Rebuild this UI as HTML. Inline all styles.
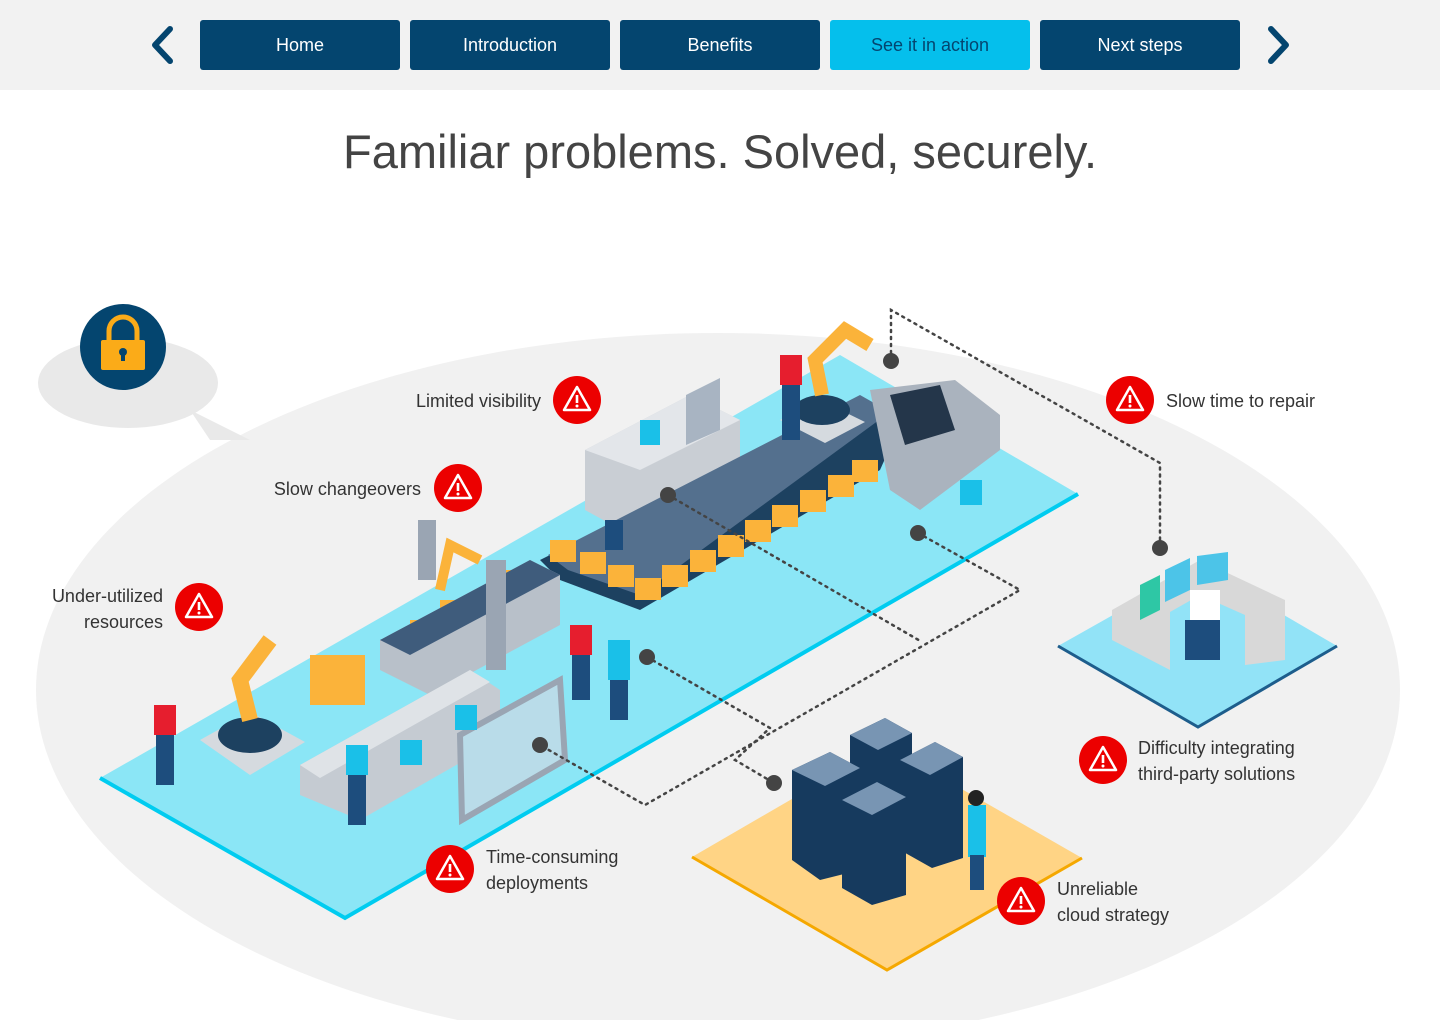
<!DOCTYPE html>
<html><head><meta charset="utf-8"><style>
html,body{margin:0;padding:0;width:1440px;height:1020px;overflow:hidden;background:#fff;font-family:"Liberation Sans",Arial,sans-serif}
.nav{position:absolute;left:0;top:0;width:1440px;height:90px;background:#f2f2f2}
.btn{position:absolute;top:20px;width:200px;height:50px;background:#04456f;color:#fff;border-radius:3px;font-size:18px;line-height:50px;text-align:center}
h1{position:absolute;top:124px;left:0;width:1440px;margin:0;text-align:center;font-weight:normal;font-size:47px;color:#444;letter-spacing:0px}
svg{position:absolute;left:0;top:0}
.lab{font-family:"Liberation Sans",Arial,sans-serif;font-size:18px;fill:#333}
</style></head><body>
<div class="nav"></div>
<div class="btn" style="left:200px">Home</div>
<div class="btn" style="left:410px">Introduction</div>
<div class="btn" style="left:620px">Benefits</div>
<div class="btn" style="left:830px;background:#05bfec;color:#04456f">See it in action</div>
<div class="btn" style="left:1040px">Next steps</div>
<h1>Familiar problems. Solved, securely.</h1>
<svg width="1440" height="1020" viewBox="0 0 1440 1020">
<defs>
<g id="warn"><circle r="24" fill="#ec0000"/><path d="M0,-13 L13,10 L-13,10 Z" fill="none" stroke="#fff" stroke-width="2.5" stroke-linejoin="round"/><rect x="-1.3" y="-5" width="2.6" height="8" fill="#fff"/><circle cy="6" r="1.5" fill="#fff"/></g>
</defs>
<path d="M170,29 L155,45 L170,61" fill="none" stroke="#04456f" stroke-width="6" stroke-linecap="round" stroke-linejoin="round"/>
<path d="M1271,29 L1286,45 L1271,61" fill="none" stroke="#04456f" stroke-width="6" stroke-linecap="round" stroke-linejoin="round"/>
<ellipse cx="718" cy="690" rx="682" ry="357" fill="#f1f1f1"/>
<ellipse cx="128" cy="383" rx="90" ry="45" fill="#e9e9e9"/>
<path d="M190,410 L250,440 L210,440 Z" fill="#e9e9e9"/>
<circle cx="123" cy="347" r="43" fill="#04456f"/>
<rect x="101" y="340" width="44" height="30" rx="2" fill="#fbab18"/>
<path d="M109,340 v-9 a14,14 0 0 1 28,0 v9" fill="none" stroke="#fbab18" stroke-width="5"/>
<circle cx="123" cy="352" r="4" fill="#04456f"/><rect x="121" y="352" width="4" height="9" fill="#04456f"/>
<polygon points="100,778 345,918 1078,494 840,355" fill="#8be6f6"/>
<polyline points="100,778 345,918 1078,494" fill="none" stroke="#00ccf0" stroke-width="4"/>
<polygon points="1058,646 1198,727 1337,646 1200,566" fill="#92e3f7"/>
<polyline points="1058,646 1198,727 1337,646" fill="none" stroke="#1d5d8c" stroke-width="3"/>
<polygon points="1112,610 1200,560 1285,600 1285,660 1245,665 1245,615 1200,595 1170,612 1170,670 1112,640" fill="#d8d8d8"/>
<polygon points="1140,585 1160,575 1160,610 1140,620" fill="#2ec7a5"/><polygon points="1165,570 1190,558 1190,590 1165,602" fill="#4cc4e8"/><polygon points="1197,556 1228,552 1228,580 1197,585" fill="#4cc4e8"/>
<rect x="1190" y="590" width="30" height="40" fill="#fff"/><rect x="1185" y="620" width="35" height="40" fill="#1d4d7d"/>
<polygon points="692,857 887,970 1082,858 885,745" fill="#ffd485"/>
<polyline points="692,857 887,970 1082,858" fill="none" stroke="#f5a800" stroke-width="3"/>
<g fill="#163a5e">
<polygon points="792,770 830,752 860,768 860,870 820,880 792,860"/>
<polygon points="850,735 885,718 912,733 912,830 880,840 850,820"/>
<polygon points="900,760 935,742 963,757 963,858 932,868 900,850"/>
<polygon points="842,800 877,782 906,797 906,895 872,905 842,888"/>
</g>
<g fill="#7895b3"><polygon points="792,770 830,752 860,768 825,786"/><polygon points="850,735 885,718 912,733 878,750"/><polygon points="900,760 935,742 963,757 930,775"/><polygon points="842,800 877,782 906,797 872,815"/></g>
<rect x="968" y="805" width="18" height="52" fill="#1ac0e8"/><rect x="970" y="855" width="14" height="35" fill="#1d4d7d"/><circle cx="976" cy="798" r="8" fill="#222"/>
<polygon points="585,450 690,395 740,420 740,490 640,540 585,510" fill="#c9ced4"/>
<polygon points="585,450 690,395 740,420 640,470" fill="#e3e6ea"/>
<polygon points="686,395 720,378 720,430 686,445" fill="#a8b4c2"/>
<polygon points="540,560 860,400 900,425 880,470 640,610 560,580" fill="#1d4160"/>
<polygon points="548,555 860,395 890,412 640,595 568,570" fill="#54708e"/>
<g fill="#fbb33a">
<rect x="550" y="540" width="26" height="22"/><rect x="580" y="552" width="26" height="22"/><rect x="608" y="565" width="26" height="22"/><rect x="635" y="578" width="26" height="22"/><rect x="662" y="565" width="26" height="22"/><rect x="690" y="550" width="26" height="22"/><rect x="718" y="535" width="26" height="22"/><rect x="745" y="520" width="26" height="22"/><rect x="772" y="505" width="26" height="22"/><rect x="800" y="490" width="26" height="22"/><rect x="828" y="475" width="26" height="22"/><rect x="852" y="460" width="26" height="22"/>
<rect x="310" y="655" width="55" height="50"/><rect x="410" y="620" width="30" height="25"/><rect x="440" y="600" width="30" height="25"/><rect x="505" y="570" width="30" height="25"/>
</g>
<polygon points="380,640 530,560 560,575 560,625 430,695 380,670" fill="#b8c0c9"/>
<polygon points="380,640 530,560 560,575 410,655" fill="#3f5c7c"/>
<rect x="486" y="560" width="20" height="110" fill="#9aa5b3"/><rect x="418" y="520" width="18" height="60" fill="#9aa5b3"/>
<polygon points="300,765 470,670 500,690 500,740 360,820 300,795" fill="#c5cbd2"/>
<polygon points="300,765 470,670 490,682 320,778" fill="#dfe3e7"/>
<polygon points="460,735 560,680 565,760 462,820" fill="#b9dce9" stroke="#9aa5b3" stroke-width="6"/>
<polygon points="870,390 955,380 1000,415 1000,450 920,510 890,490" fill="#aab3be"/>
<polygon points="890,395 940,385 955,430 905,445" fill="#24364a"/>
<polygon points="200,740 250,712 305,742 250,775" fill="#d5dadf"/><ellipse cx="250" cy="735" rx="32" ry="18" fill="#1d4160"/>
<path d="M250,720 L240,680 L270,640" stroke="#fbb33a" stroke-width="16" fill="none"/>
<polygon points="780,420 820,400 865,422 825,443" fill="#d5dadf"/><ellipse cx="822" cy="410" rx="28" ry="15" fill="#1d4160"/>
<path d="M822,395 L815,360 L845,330 L870,345" stroke="#fbb33a" stroke-width="14" fill="none"/>
<path d="M440,590 L450,545 L480,560" stroke="#fbb33a" stroke-width="10" fill="none"/>
<g fill="#1d4d7d"><rect x="156" y="705" width="18" height="80"/><rect x="572" y="625" width="18" height="75"/><rect x="610" y="640" width="18" height="80"/><rect x="782" y="355" width="18" height="85"/><rect x="348" y="745" width="18" height="80"/><rect x="605" y="520" width="18" height="30"/></g>
<g fill="#e61e2e"><rect x="154" y="705" width="22" height="30"/><rect x="570" y="625" width="22" height="30"/><rect x="780" y="355" width="22" height="30"/></g>
<g fill="#1ac0e8"><rect x="608" y="640" width="22" height="40"/><rect x="346" y="745" width="22" height="30"/><rect x="400" y="740" width="22" height="25"/><rect x="455" y="705" width="22" height="25"/><rect x="960" y="480" width="22" height="25"/><rect x="640" y="420" width="20" height="25"/></g>
<g fill="none" stroke="#444" stroke-width="2.5" stroke-dasharray="2 5" stroke-linecap="round">
<polyline points="891,360 891,310 1160,463 1160,548"/>
<polyline points="668,495 922,642"/>
<polyline points="918,533 1020,590 645,805 540,745"/>
<polyline points="647,657 770,728 735,760 774,783"/>
</g>
<g fill="#444"><circle cx="891" cy="361" r="8"/><circle cx="1160" cy="548" r="8"/><circle cx="668" cy="495" r="8"/><circle cx="918" cy="533" r="8"/><circle cx="647" cy="657" r="8"/><circle cx="540" cy="745" r="8"/><circle cx="774" cy="783" r="8"/></g>
<use href="#warn" x="577" y="400"/>
<use href="#warn" x="458" y="488"/>
<use href="#warn" x="199" y="607"/>
<use href="#warn" x="1130" y="400"/>
<use href="#warn" x="1103" y="760"/>
<use href="#warn" x="450" y="869"/>
<use href="#warn" x="1021" y="901"/>
<text class="lab" x="541" y="407" text-anchor="end">Limited visibility</text>
<text class="lab" x="421" y="495" text-anchor="end">Slow changeovers</text>
<text class="lab" x="163" y="602" text-anchor="end">Under-utilized</text>
<text class="lab" x="163" y="628" text-anchor="end">resources</text>
<text class="lab" x="1166" y="407">Slow time to repair</text>
<text class="lab" x="1138" y="754">Difficulty integrating</text>
<text class="lab" x="1138" y="780">third-party solutions</text>
<text class="lab" x="486" y="863">Time-consuming</text>
<text class="lab" x="486" y="889">deployments</text>
<text class="lab" x="1057" y="895">Unreliable</text>
<text class="lab" x="1057" y="921">cloud strategy</text>
</svg>
</body></html>
